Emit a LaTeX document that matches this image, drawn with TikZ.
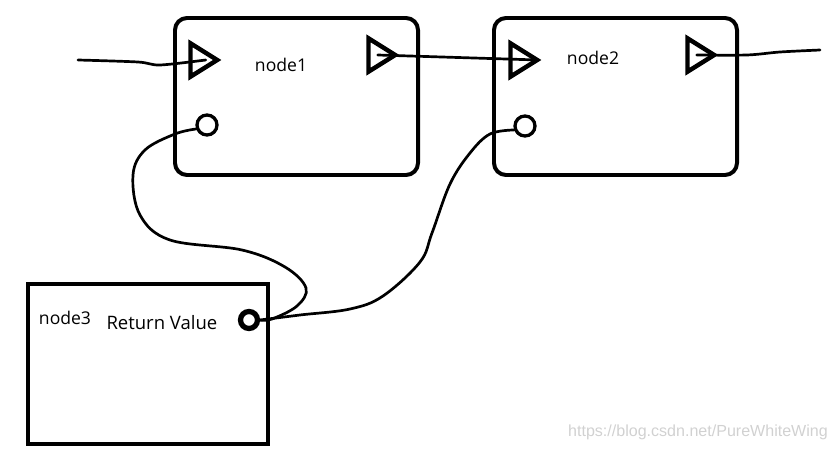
\documentclass[tikz,border=0pt]{standalone}
\usepackage{fontspec}
\usetikzlibrary{shapes.geometric,positioning}
\newfontfamily\lblfont{Open Sans}
\newfontfamily\wmfont{Liberation Sans}

\begin{document}
\begin{tikzpicture}[x=0.03cm,y=-0.03cm,
    blockbox/.style={draw,line width=3.4pt,rounded corners=0.36cm,minimum width=7.29cm,minimum height=4.71cm,inner sep=0pt},
    retbox/.style={draw,line width=3.4pt,minimum width=7.2cm,minimum height=4.8cm,inner sep=0pt},
    port/.style={draw,line width=3.8pt,isosceles triangle,isosceles triangle stretches,minimum width=1.0cm,minimum height=0.8cm,inner sep=0pt,anchor=apex},
    retport/.style={draw,circle,line width=2.8pt,minimum size=0.6cm,inner sep=0pt},
    wire/.style={line width=2.3pt,line cap=round,line join=round},
    lbl/.style={font=\lblfont\fontsize{15}{18}\selectfont,inner sep=0pt}]
    \useasboundingbox (0,0) rectangle (836,455);
    \node[blockbox] (b1) at (296.5,96.5) {};
    \node[blockbox] (b2) at (615.5,96.5) {};
    \node[retbox] (b3) at (148,364) {};
    \node[port] (t1in) at (223,60) {};
    \node[port] (t1out) at (401,55) {};
    \node[port] (t2in) at (543,60) {};
    \node[port] (t2out) at (720,55) {};
    \node[retport] (r1) at (207,125) {};
    \node[retport] (r2) at (525,126) {};
    \node[retport,line width=4.5pt,minimum size=0.51cm] (r3) at (249,320) {};
    \node[lbl] (l1) at (281,65) {node1};
    \node[lbl] (l2) at (593,58) {node2};
    \node[lbl] (l3) at (65,318) {node3};
    \node[lbl,font=\lblfont\fontsize{15.8}{18}\selectfont,right=0.45cm of l3.east,yshift=-0.15cm] (rv) {Return Value};
    \coordinate (inA) at (78,60);
    \coordinate (outB) at (820,50);
    \draw[wire] plot[smooth] coordinates {(inA) (138,62) (160,65) ([xshift=0.18cm]t1in.center)};
    \draw[wire] (t1out.center) -- ([xshift=-0.15cm]t2in.apex);
    \draw[wire] plot[smooth] coordinates {(t2out.center) (747,55) (780,52) (outB)};
    \draw[wire] plot[smooth,tension=0.6] coordinates {(r1.200) (175,134) (145,150) (133,175) (140,215) (170,240) (242,250) (285,267) (306,288) (297,306) (272,319) (r3.east)};
    \draw[wire] plot[smooth,tension=0.6] coordinates {(r2.200) (490,134) (470,153) (450,184) (432,233) (420,262) (383,296) (350,309) (300,315) (r3.east)};
    \node[font=\wmfont\fontsize{13.7}{15}\selectfont,text=black!18,inner sep=0pt] (wm) at (698,432) {https://blog.csdn.net/PureWhiteWing};
\end{tikzpicture}
\end{document}
